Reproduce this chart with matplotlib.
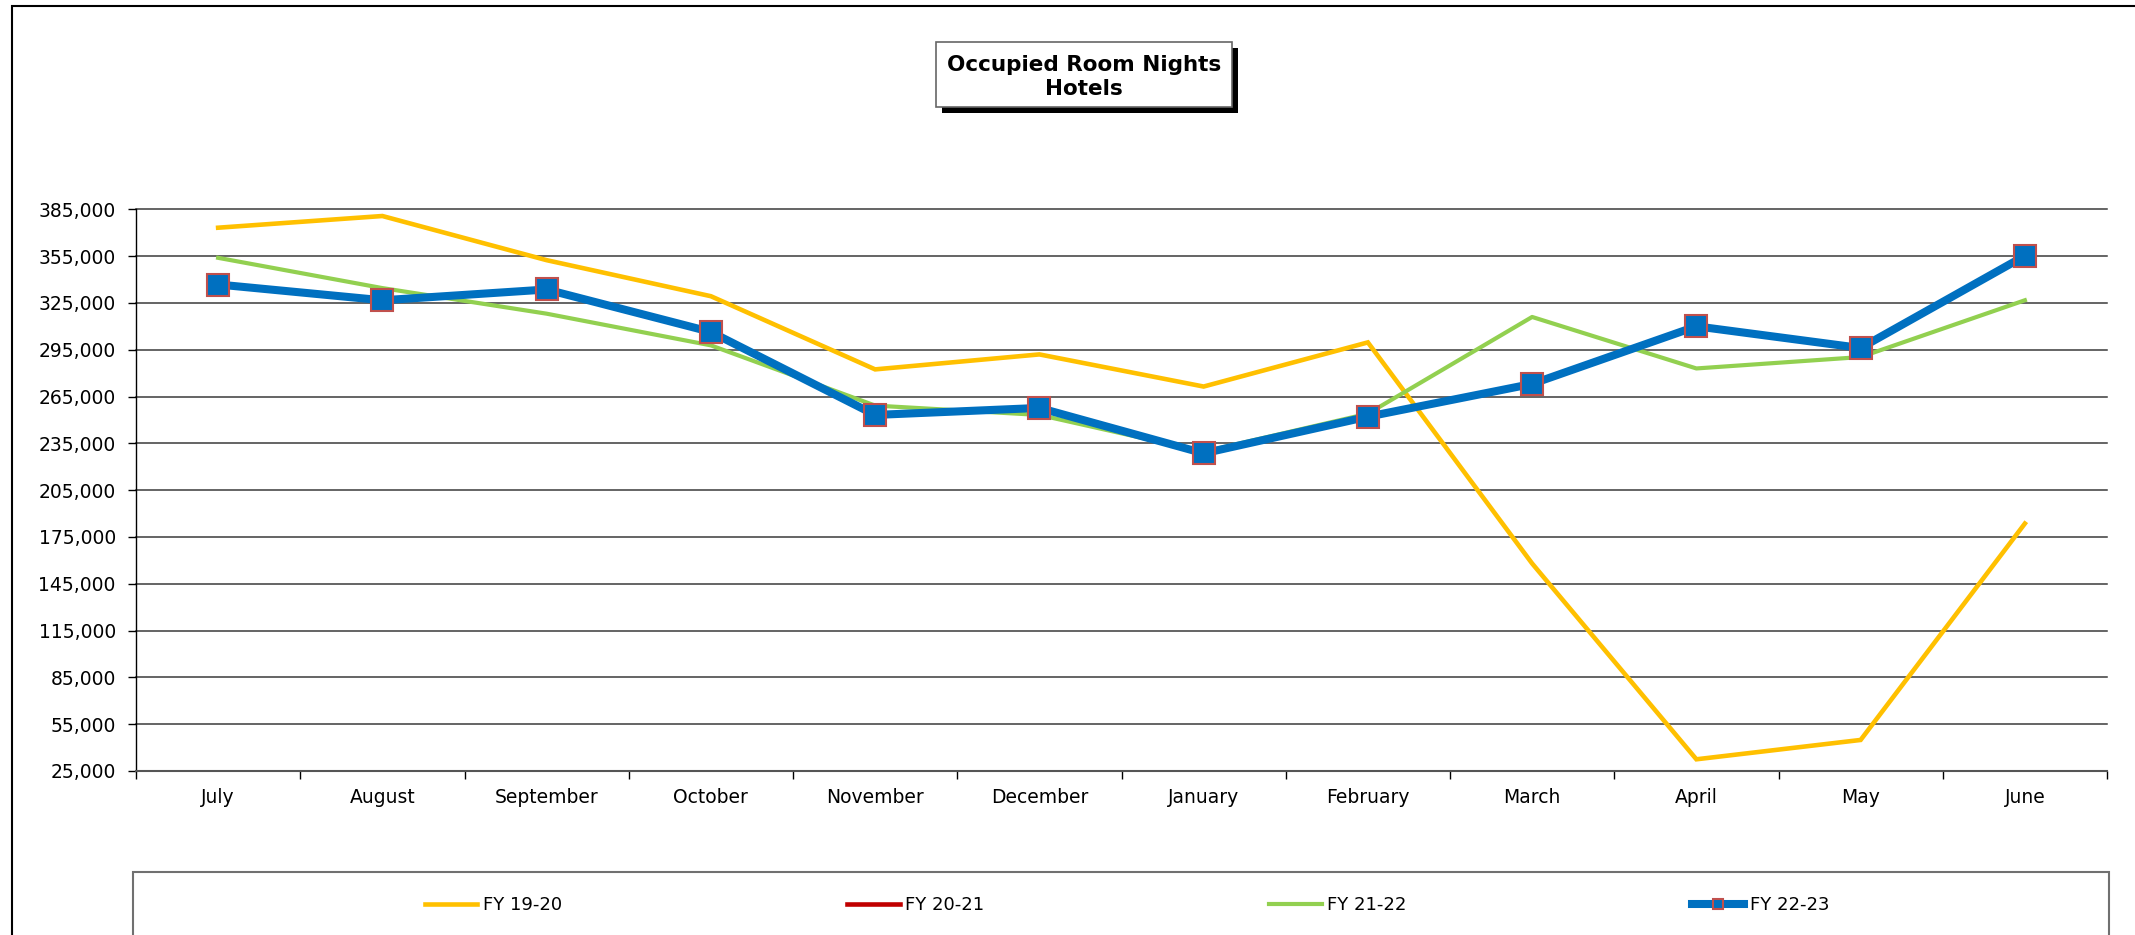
import numpy as np
import matplotlib
matplotlib.use("Agg")
import matplotlib.pyplot as plt
from matplotlib.patches import Rectangle
from matplotlib.ticker import FixedLocator, FuncFormatter

plt.rcParams['font.family'] = ['DejaVu Sans']

months = ["July", "August", "September", "October", "November", "December",
          "January", "February", "March", "April", "May", "June"]
fy1920 = [373200, 380700, 352400, 329300, 282400, 292000,
          271400, 299700, 158000, 32500, 44900, 183600]
fy2021 = [np.nan] * 12
fy2122 = [353900, 334500, 318100, 297800, 259200, 253200,
          229600, 254000, 316000, 283000, 290300, 326700]
fy2223 = [336800, 326700, 333600, 306400, 253200, 257700,
          228600, 252100, 273100, 310000, 296100, 355200]
series_labels = ["FY 19-20", "FY 20-21", "FY 21-22", "FY 22-23"]
yticks = list(range(25000, 385001, 30000))

W, H = 2135, 935
fig = plt.figure(figsize=(W / 100, H / 100), dpi=100)

def fx(px):
    return px / W

def fy(py):
    return 1 - py / H

# outer chart border
fig.patches.append(Rectangle((fx(12), -0.2), 1.2, fy(6) + 0.2, transform=fig.transFigure,
                             fill=False, edgecolor='black', linewidth=1.5, zorder=0))

ax = fig.add_axes([fx(136), fy(771), (2107 - 136) / W, (771 - 209.3) / H])
x = np.arange(len(months))

l1, = ax.plot(x, fy1920, color='#FFC000', linewidth=3.3, solid_joinstyle='miter', zorder=3)
l2, = ax.plot(x, fy2021, color='#C00000', linewidth=3.3, zorder=3)
l3, = ax.plot(x, fy2122, color='#92D050', linewidth=3.0, zorder=3)
l4, = ax.plot(x, fy2223, color='#0070C0', linewidth=5.8, marker='s', markersize=15.5,
              markerfacecolor='#0070C0', markeredgecolor='#C0504D', markeredgewidth=1.5,
              zorder=4)

ax.set_xlim(-0.5, len(months) - 0.5)
ax.set_ylim(25000, 385000)
ax.set_yticks(yticks)
ax.yaxis.set_major_formatter(FuncFormatter(lambda v, p: f"{int(v):,}"))
ax.tick_params(axis='y', direction='out', length=6, width=1, pad=8.5, labelsize=13.5,
               colors='black')
ax.grid(axis='y', color='#3a3a3a', linewidth=1.1, zorder=1)
ax.set_axisbelow(True)
for gl in ax.get_ygridlines():
    gl.set_clip_on(False)

ax.xaxis.set_major_locator(FixedLocator(np.arange(-0.5, len(months), 1.0)))
ax.xaxis.set_major_formatter(FuncFormatter(lambda v, p: ""))
ax.xaxis.set_minor_locator(FixedLocator(x))
ax.set_xticklabels(months, minor=True)
ax.tick_params(axis='x', which='major', direction='out', length=6, width=1, color='black')
ax.tick_params(axis='x', which='minor', length=0, pad=12, labelsize=13.5)

for s in ['top', 'right']:
    ax.spines[s].set_visible(False)
ax.spines['left'].set_color('black')
ax.spines['left'].set_linewidth(1.0)
ax.spines['bottom'].set_color('#555555')
ax.spines['bottom'].set_linewidth(1.5)

# title box with shadow
bx0, by0, bx1, by1 = 936, 42, 1232, 107
fig.patches.append(Rectangle((fx(bx0 + 6), fy(by1 + 6)), (bx1 - bx0) / W, (by1 - by0) / H,
                             transform=fig.transFigure, facecolor='black', edgecolor='none',
                             zorder=1))
fig.patches.append(Rectangle((fx(bx0), fy(by1)), (bx1 - bx0) / W, (by1 - by0) / H,
                             transform=fig.transFigure, facecolor='white', edgecolor='#666666',
                             linewidth=1.2, zorder=2))
fig.text(fx((bx0 + bx1) / 2), fy(77), "Occupied Room Nights\nHotels", ha='center', va='center',
         fontsize=15.5, fontweight='bold', linespacing=1.3, zorder=3)

# legend box
fig.patches.append(Rectangle((fx(133), -0.2), (2109 - 133) / W, fy(872) + 0.2,
                             transform=fig.transFigure, fill=False, edgecolor='#707070',
                             linewidth=1.5, zorder=1))
leg = fig.legend([l1, l2, l3, l4], series_labels, loc='center left',
                 bbox_to_anchor=(fx(425), fy(905)), ncol=4, frameon=False,
                 fontsize=13, handlelength=2.9, handletextpad=0.3, columnspacing=15.8,
                 borderpad=0, borderaxespad=0, markerscale=0.5)

fig.savefig("out.png", dpi=100)
